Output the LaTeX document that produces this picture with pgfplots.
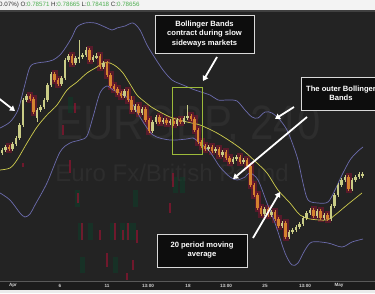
\documentclass[border=0pt]{standalone}
\usepackage{pgfplots}
\pgfplotsset{compat=1.18}
\usepackage{pgfplotstable}
\usepackage{fontspec}
\setmainfont{Liberation Sans}
\usetikzlibrary{arrows.meta}

\definecolor{chartbg}{HTML}{232323}
\definecolor{bandblue}{HTML}{6C6CAE}
\definecolor{smayellow}{HTML}{CFCC4E}
\definecolor{upcol}{HTML}{C9CC86}
\definecolor{downcol}{HTML}{D4832F}
\definecolor{downhalo}{HTML}{7A1530}
\definecolor{ghostred}{HTML}{8A1530}
\definecolor{ghostgreen}{HTML}{0C4029}
\definecolor{boxgreen}{HTML}{9DBA3A}
\definecolor{ghost}{HTML}{2D2D2D}
\definecolor{stripbg}{HTML}{F3F3F3}
\definecolor{axisbar}{HTML}{1C1C1C}
\definecolor{ticklab}{HTML}{D2D2D2}
\definecolor{valgreen}{HTML}{4DAF50}
\definecolor{labdark}{HTML}{333333}

% EURGBP 4h candles closing higher: x position, open, high, low, close
\pgfplotstableread{
x      open high low close
2      140  145  138  143
5.5    143  148  141  146
12.5   144  151  142  149
16     149  157  147  155
19.5   155  170  153  168
23     168  195  166  193
26.5   193  199  191  197
37     175  185  171  183
40.5   183  188  181  186
44     186  195  184  193
47.5   193  210  191  208
51     208  221  206  219
61.5   209  217  207  215
65     215  235  213  233
68.5   233  239  231  237
75.5   230  237  228  235
79     235  253  230  236
82.5   236  240  234  238
86     238  246  236  243
93     233  238  231  236
96.5   236  240  234  237
103.5  226  232  224  230
124.5  197  204  195  202
135    183  189  181  187
142    180  186  178  184
152.5  162  173  160  171
156    171  178  169  176
163    171  175  169  173
170    170  174  168  172
177    169  175  167  173
184    171  177  169  175
187.5  175  188  173  177
208.5  144  148  142  146
215.5  142  146  140  144
222.5  138  143  136  141
233    131  136  129  134
236.5  134  138  132  136
243.5  131  135  129  133
264.5  79   86   77   84
271.5  78   83   76   81
282    67   72   65   70
289    56   63   54   61
292.5  61   65   59   63
296    63   68   61   66
299.5  66   71   64   69
303    69   77   67   75
306.5  75   82   73   80
310    80   85   78   83
317    77   84   75   82
324    75   80   73   78
331    74   89   72   87
334.5  87   100  85   98
338    98   110  96   108
341.5  108  115  106  113
345    113  118  111  116
352    104  115  102  113
355.5  113  118  111  116
359    116  121  114  119
362.5  117  121  115  119
}\risingcandles

% candles closing lower
\pgfplotstableread{
x      open high low close
9      146  148  142  144
30     197  199  192  194
33.5   194  196  179  181
54.5   219  221  211  213
58     213  215  207  209
72     237  239  228  230
89.5   243  245  231  233
100    237  239  224  226
107    230  232  216  218
110.5  218  220  205  207
114    207  209  202  204
117.5  204  206  198  200
121    200  202  195  197
128    202  204  191  193
131.5  193  197  181  183
138.5  187  189  178  180
145.5  184  186  171  173
149    173  175  160  162
159.5  176  178  169  171
166.5  173  175  168  170
173.5  172  174  167  169
180.5  173  175  169  171
191    177  179  172  174
194.5  174  176  161  163
198    163  165  149  151
201.5  151  153  145  147
205    147  149  142  144
212    146  148  140  142
219    144  146  136  138
226    141  143  133  135
229.5  135  137  129  131
240    136  138  129  131
247    133  135  125  127
250.5  127  129  106  108
254    108  110  96   98
257.5  98   100  83   85
261    85   87   77   79
268    84   86   76   78
275    81   83   72   74
278.5  74   76   65   67
285.5  70   72   54   56
313.5  83   85   75   77
320.5  82   84   73   75
327.5  78   80   72   74
348.5  116  118  102  104
}\fallingcandles

% faded indicator traces in the background: x, bottom, top
\pgfplotstableread{
x    lo   hi
23   126  130
63   158  168
70   120  133
75   180  190
78   90   100
82   53   70
100  53   63
107  26   40
115  53   70
123  53   63
128  53   70
133  23   33
137  50   63
170  80   90
173  106  120
127  13   20
}\ghostred
\pgfplotstableread{
x    lo   hi
70   180  196
77   86   103
80   53   70
90   53   70
112  53   70
122  53   70
133  53   70
135  86   103
82   20   36
115  20   36
175  100  116
182  100  116
128  53   70
}\ghostgreen

\pgfplotsset{
  bar trace/.style 2 args={draw=none, mark=none,
      error bars/.cd, y dir=both, y explicit, error mark=none,
      error bar style={line width=#2, #1}},
}

\tikzset{
  callout/.style={draw=white!85!black, line width=0.8pt, fill=black!95,
    text=white, align=center, font=\fontsize{7.6}{9.4}\selectfont\bfseries},
  pointer/.style={white, line width=1.8pt, -{Triangle[length=5pt, width=6pt]}},
}

\begin{document}
\begin{tikzpicture}
\path[use as bounding box] (0,-12pt) rectangle (375pt,281pt);
% quote bar on top
\fill[stripbg] (0,271pt) rectangle (375pt,281pt);
\fill[black!75] (0,269pt) rectangle (375pt,271pt);
\node[anchor=west, inner sep=0pt, font=\fontsize{6.2}{7}\selectfont] at (-1pt,276pt)
  {\color{labdark}0.07\%) O:\color{valgreen}0.78571 \color{labdark}H:\color{valgreen}0.78665 \color{labdark}L:\color{valgreen}0.78418 \color{labdark}C:\color{valgreen}0.78656};
% time axis bar
\fill[axisbar] (0,-9pt) rectangle (375pt,0);
\fill[black!8] (0,-12pt) rectangle (375pt,-9pt);
\draw[black!65, line width=0.6pt] (0,0) -- (375pt,0);

\begin{axis}[
  at={(0,0)}, anchor=south west,
  scale only axis, width=375pt, height=269pt,
  xmin=0, xmax=375, ymin=12, ymax=281,
  axis background/.style={fill=chartbg},
  axis line style={draw=none},
  ytick=\empty,
  xtick={13,60,107,148,188,226,265,305,339},
  xticklabels={Apr,6,11,13:00,18,13:00,25,13:00,May},
  major tick length=0pt,
  xticklabel style={anchor=center, yshift=-4.5pt, inner sep=0pt,
    font=\fontsize{4.6}{5}\selectfont\bfseries, text=ticklab},
]
% symbol watermark
\node[ghost, inner sep=0pt, font=\fontsize{42}{42}\selectfont] at (axis cs:188,167)
  {\scalebox{1}[1.15]{EURGBP, 240}};
\node[ghost, inner sep=0pt, font=\fontsize{24}{24}\selectfont] at (axis cs:172,120)
  {Euro Fx/British Pound};

% faded indicator traces
\addplot[bar trace={draw=ghostgreen, opacity=0.5}{5pt}] table[x=x,
  y expr={(\thisrow{lo}+\thisrow{hi})/2},
  y error expr={(\thisrow{hi}-\thisrow{lo})/2}] {\ghostgreen};
\addplot[bar trace={draw=ghostred, opacity=0.75}{1.2pt}] table[x=x,
  y expr={(\thisrow{lo}+\thisrow{hi})/2},
  y error expr={(\thisrow{hi}-\thisrow{lo})/2}] {\ghostred};

% red glow behind falling candles
\addplot[bar trace={draw=downhalo, opacity=0.6}{6pt}] table[x=x,
  y expr={(\thisrow{open}+\thisrow{close})/2},
  y error expr={abs(\thisrow{close}-\thisrow{open})/2+4}] {\fallingcandles};

% Bollinger bands (20, 2) and the 20 period SMA
\addplot[bandblue, line width=0.7pt, smooth] coordinates {
 (0,165) (10,171) (18,183) (24,205) (30,226) (37,230) (45,231) (53,233)
 (60,238) (66,246) (72,256) (77,266) (85,270) (95,270) (105,266) (112,263)
 (117,265) (125,267) (133,270) (140,263) (147,248) (155,235) (163,223)
 (172,213) (183,208) (195,203) (210,198) (218,193) (228,193) (237,192)
 (245,183) (252,176) (258,175) (265,181) (272,180) (280,173) (287,163)
 (293,148) (298,133) (303,110) (308,93) (318,90) (328,91) (335,103)
 (342,118) (350,133) (357,141) (363,146)};
\addplot[bandblue, line width=0.7pt, smooth] coordinates {
 (0,100) (10,93) (20,80) (25,76) (30,79) (35,88) (47,110) (60,141) (70,150)
 (80,153) (87,157) (93,176) (100,200) (107,207) (113,203) (120,200) (130,193)
 (140,176) (153,158) (170,153) (187,154) (193,155) (200,150) (210,141)
 (220,126) (230,116) (237,113) (245,116) (250,120) (258,113) (267,90)
 (275,70) (285,40) (292,28) (298,30) (305,43) (312,51) (328,50) (342,46)
 (352,51) (363,54)};
\addplot[smayellow, line width=0.7pt, smooth] coordinates {
 (0,123) (10,125) (17,133) (27,150) (37,166) (47,178) (57,188) (67,203)
 (77,211) (87,220) (97,226) (103,230) (110,230) (117,226) (123,220) (130,209)
 (137,198) (145,191) (153,185) (170,176) (187,171) (200,168) (217,160)
 (233,150) (245,141) (257,130) (267,120) (278,103) (290,90) (300,78)
 (310,74) (327,73) (335,78) (347,88) (362,100)};

% candles: wicks then bodies
\addplot[bar trace={draw=upcol}{0.5pt}] table[x=x,
  y expr={(\thisrow{high}+\thisrow{low})/2},
  y error expr={(\thisrow{high}-\thisrow{low})/2}] {\risingcandles};
\addplot[bar trace={draw=downcol}{0.5pt}] table[x=x,
  y expr={(\thisrow{high}+\thisrow{low})/2},
  y error expr={(\thisrow{high}-\thisrow{low})/2}] {\fallingcandles};
\addplot[bar trace={draw=upcol}{2.3pt}] table[x=x,
  y expr={(\thisrow{open}+\thisrow{close})/2},
  y error expr={max(abs(\thisrow{close}-\thisrow{open})/2,0.6)}] {\risingcandles};
\addplot[bar trace={draw=downcol}{2.3pt}] table[x=x,
  y expr={(\thisrow{open}+\thisrow{close})/2},
  y error expr={max(abs(\thisrow{close}-\thisrow{open})/2,0.6)}] {\fallingcandles};

% sideways-market highlight
\draw[boxgreen, line width=0.8pt] (axis cs:172,139) rectangle (axis cs:202,206);

% callouts
\draw[callout] (axis cs:155,240) rectangle (axis cs:254,278);
\node[callout, draw=none, fill=none] at (axis cs:204.5,259)
  {Bollinger Bands\\contract during slow\\sideways markets};
\draw[callout] (axis cs:301,183) rectangle (axis cs:395,216);
\node[callout, draw=none, fill=none] at (axis cs:341,200)
  {The outer Bollinger\\Bands};
\draw[callout] (axis cs:157,26) rectangle (axis cs:247,59);
\node[callout, draw=none, fill=none] at (axis cs:202,43)
  {20 period moving\\average};

\draw[pointer] (axis cs:-3,196) -- (axis cs:15,182);
\draw[pointer] (axis cs:217,236) -- (axis cs:203,212);
\draw[pointer] (axis cs:294,186) -- (axis cs:275,174);
\draw[pointer] (axis cs:307,176) -- (axis cs:233,114);
\draw[pointer] (axis cs:253,55) -- (axis cs:280,101);
\end{axis}
\end{tikzpicture}
\end{document}
